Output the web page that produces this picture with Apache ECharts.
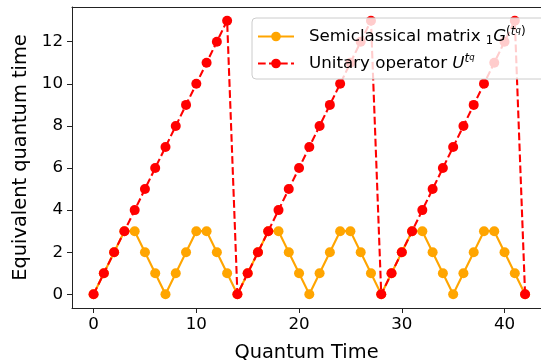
<!DOCTYPE html>
<html><head><meta charset="utf-8">
<script src="https://cdn.jsdelivr.net/npm/echarts@6/dist/echarts.min.js"></script>
<style>html,body{margin:0;padding:0;background:#fff}#c{width:541px;height:360px}</style>
</head><body><div id="c"></div>
<script>
const quantumTime = [0,1,2,3,4,5,6,7,8,9,10,11,12,13,14,15,16,17,18,19,20,21,22,23,24,25,26,27,28,29,30,31,32,33,34,35,36,37,38,39,40,41,42];
const semiclassical = [0,1,2,3,3,2,1,0,1,2,3,3,2,1,0,1,2,3,3,2,1,0,1,2,3,3,2,1,0,1,2,3,3,2,1,0,1,2,3,3,2,1,0];
const unitary = [0,1,2,3,4,5,6,7,8,9,10,11,12,13,0,1,2,3,4,5,6,7,8,9,10,11,12,13,0,1,2,3,4,5,6,7,8,9,10,11,12,13,0];
const xTicks = [0,10,20,30,40];
const yTicks = [0,2,4,6,8,10,12];
const seriesNames = ['Semiclassical matrix', 'Unitary operator'];

const font = 'DejaVu Sans';
const axisColor = '#222';
const chart = echarts.init(document.getElementById('c'));
const pairs = a => quantumTime.map((x,i)=>[x,a[i]]);
const X_MIN = -2.1, X_MAX = 43.55;
chart.setOption({
  animation:false,
  textStyle:{fontFamily:font},
  grid:{left:72,right:0,top:7,bottom:52,show:false,outerBoundsMode:'none'},
  legend:{
    left:252, top:18, orient:'vertical', itemGap:6, itemWidth:36, itemHeight:12,
    backgroundColor:'rgba(255,255,255,0.8)', borderColor:'#ccc', borderWidth:1, borderRadius:4,
    padding:[8,20,5,5],
    data:seriesNames,
    formatter: function(n){
      if(n===seriesNames[0]) return '{g|}{t|Semiclassical matrix }{s|1}{i|G}{p|(}{pi|t}{q|q}{p|)}';
      return '{g|}{t|Unitary operator }{i|U}{pi|t}{q|q}';
    },
    textStyle:{
      color:'#000', fontSize:16.7, lineHeight:21,
      rich:{
        g:{width:10},
        t:{fontSize:16.7,fontFamily:font,color:'#000'},
        s:{fontSize:11.5,fontFamily:font,color:'#000',verticalAlign:'bottom',padding:[9,0,0,0]},
        i:{fontSize:16.7,fontFamily:font,fontStyle:'italic',color:'#000'},
        p:{fontSize:12,fontFamily:font,color:'#000',verticalAlign:'top',padding:[0,0,9,0]},
        pi:{fontSize:12,fontFamily:font,fontStyle:'italic',color:'#000',verticalAlign:'top',padding:[0,0,9,0]},
        q:{fontSize:8.5,fontFamily:font,fontStyle:'italic',color:'#000',verticalAlign:'top',padding:[0,0,4,0]}
      }
    }
  },
  xAxis:[{
    type:'value', min:X_MIN, max:X_MAX,
    name:'Quantum Time', nameLocation:'middle', nameGap:35,
    nameTextStyle:{fontSize:19.4,color:'#000',fontFamily:font},
    axisLine:{show:true,onZero:false,lineStyle:{color:axisColor,width:1}},
    axisTick:{show:true,length:5,inside:false,customValues:xTicks,lineStyle:{color:axisColor}},
    axisLabel:{customValues:xTicks,fontSize:16.7,color:'#000',margin:8,align:'center',hideOverlap:false},
    splitLine:{show:false}
  },{
    type:'value', position:'top', min:X_MIN, max:X_MAX,
    axisLine:{show:true,onZero:false,lineStyle:{color:axisColor,width:1}},
    axisTick:{show:false}, axisLabel:{show:false}, splitLine:{show:false}
  }],
  yAxis:{
    type:'value', min:-0.65, max:13.65,
    name:'Equivalent quantum time', nameLocation:'middle', nameGap:36,
    nameTextStyle:{fontSize:19.4,color:'#000',fontFamily:font},
    axisLine:{show:true,onZero:false,lineStyle:{color:axisColor,width:1}},
    axisTick:{show:true,length:5,customValues:yTicks,lineStyle:{color:axisColor}},
    axisLabel:{customValues:yTicks,fontSize:16.7,color:'#000',margin:9},
    splitLine:{show:false}
  },
  series:[
    {name:seriesNames[0],type:'line',data:pairs(semiclassical),symbol:'circle',symbolSize:10,
     itemStyle:{color:'#FFA500'},lineStyle:{color:'#FFA500',width:2.1},z:2},
    {name:seriesNames[1],type:'line',data:pairs(unitary),symbol:'circle',symbolSize:10,
     itemStyle:{color:'#FF0000'},lineStyle:{color:'#FF0000',width:2.1,type:[7.7,3.3]},z:3}
  ]
});
</script></body></html>
